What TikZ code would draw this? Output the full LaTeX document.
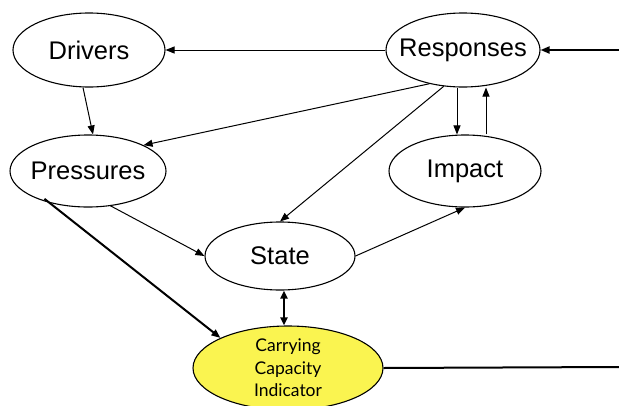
\documentclass[tikz,border=0pt]{standalone}
\usepackage{fontspec}
\setmainfont{Liberation Sans}
\newfontfamily\ccfont{Lato}
\usetikzlibrary{arrows.meta,shapes.geometric}
\definecolor{ccyellow}{RGB}{250,244,80}
\begin{document}
\begin{tikzpicture}[x=1pt,y=-1pt,
  oval/.style={draw, ellipse, line width=1.1pt, inner xsep=-20pt, inner ysep=-10pt, font=\fontsize{25.5}{30}\selectfont},
  conn/.style={line width=1pt, -{Triangle[length=9pt,width=7pt]}},
  thickconn/.style={line width=2pt, -{Triangle[length=9pt,width=7pt]}}]
\useasboundingbox[fill=white] (0,0) rectangle (619,405);
\node[oval, minimum width=152pt, minimum height=74pt] (drv) at (89,50) {Drivers};
\node[oval, minimum width=154pt, minimum height=74pt] (rsp) at (463,50) {Responses};
\node[oval, minimum width=156pt, minimum height=72pt] (prs) at (88,171) {Pressures};
\node[oval, minimum width=152pt, minimum height=72pt] (imp) at (465,171) {Impact};
\node[oval, minimum width=150pt, minimum height=68pt] (sta) at (280,256) {State};
\node[oval, fill=ccyellow, minimum width=190pt, minimum height=84pt, font=\ccfont\fontsize{17.5}{22.5}\selectfont, align=center] (cci) at (288,368) {Carrying\\Capacity\\Indicator};
\coordinate (rin) at (619,50);
\coordinate (cout) at (619,367);
% connectors
\draw[conn] (rsp) -- (drv);
\draw[thickconn] (rin) -- (rsp);
\draw[conn] ([xshift=-6pt]drv.south) -- ([xshift=5pt]prs.north);
\draw[conn] (rsp.225) -- (prs.north east);
\draw[conn] (rsp.242) -- (sta.north);
\draw[conn] ([xshift=-6pt]rsp.south) -- ([xshift=-8pt]imp.north);
\draw[conn] ([xshift=21pt]imp.north) -- ([xshift=23pt]rsp.south);
\draw[conn] ([shift={(22pt,2pt)}]prs.south) -- (sta.west);
\draw[conn] (sta.east) -- (imp.south);
\draw[thickconn] ([shift={(12pt,-2pt)}]prs.south west) -- (cci.north west);
\draw[line width=2pt, {Triangle[length=8pt,width=7pt]}-{Triangle[length=8pt,width=7pt]}] ([xshift=4pt]sta.south) -- ([xshift=-4pt]cci.north);
\draw[line width=2pt] (cci.east) -- (cout);
\end{tikzpicture}
\end{document}
